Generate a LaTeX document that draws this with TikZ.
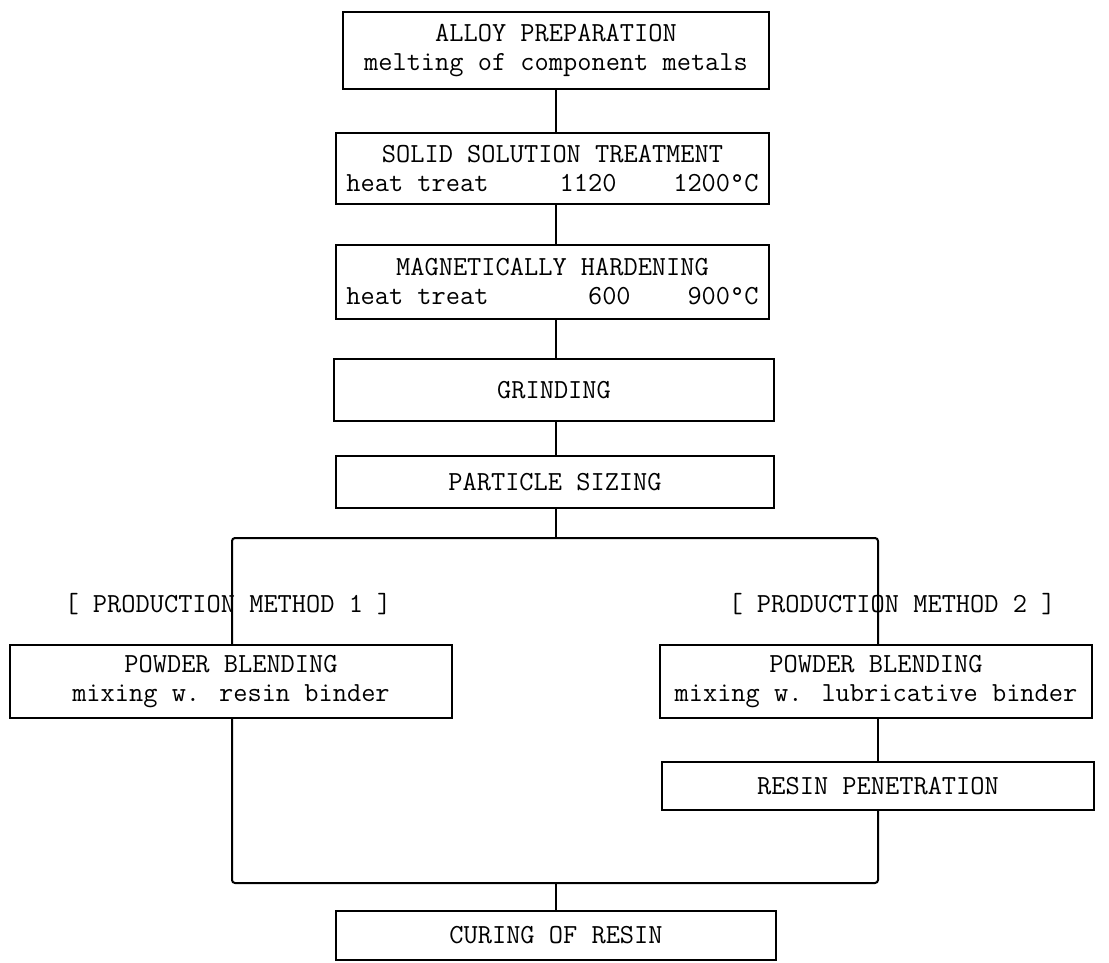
\documentclass[tikz,border=0pt]{standalone}
\begin{document}
\begin{tikzpicture}[x=1pt, y=-1pt,
    stage/.style={draw, line width=2pt, rectangle, inner sep=0pt, align=center,
                  font=\ttfamily\fontsize{27.6}{29}\selectfont},
    method/.style={inner sep=0pt, font=\ttfamily\fontsize{27.6}{29}\selectfont},
    flow/.style={line width=2pt, rounded corners=3pt}]
\useasboundingbox (0,0) rectangle (1109,963);

\coordinate (trunk) at (556,0);
\coordinate (lft)   at (232,0);
\coordinate (rgt)   at (878,0);
\coordinate (split) at (556,538);
\coordinate (merge) at (556,883);

\node[stage, minimum width=426pt, minimum height=77pt] (alloy)  at (556,50.5)
  {ALLOY PREPARATION\\melting of component metals};
\node[stage, minimum width=433pt, minimum height=71pt] (solid)  at (552.5,168.5)
  {SOLID SOLUTION TREATMENT\\heat treat~~~~~1120~~~~1200°C};
\node[stage, minimum width=433pt, minimum height=74pt] (harden) at (552.5,282)
  {MAGNETICALLY HARDENING\\heat treat~~~~~~~600~~~~900°C};
\node[stage, minimum width=440pt, minimum height=62pt] (grind)  at (554,390) {GRINDING};
\node[stage, minimum width=438pt, minimum height=52pt] (sizing) at (555,482) {PARTICLE SIZING};

\node[method] (meth1) at (228,604) {[ PRODUCTION METHOD 1 ]};
\node[method] (meth2) at (892,604) {[ PRODUCTION METHOD 2 ]};

\node[stage, minimum width=442pt, minimum height=73pt] (blend1) at (231,681.5)
  {POWDER BLENDING\\mixing w. resin binder};
\node[stage, minimum width=432pt, minimum height=73pt] (blend2) at (876,681.5)
  {POWDER BLENDING\\mixing w. lubricative binder};
\node[stage, minimum width=432pt, minimum height=48pt] (resin)  at (878,786) {RESIN PENETRATION};
\node[stage, minimum width=440pt, minimum height=49pt] (cure)   at (556,935.5) {CURING OF RESIN};

\draw[flow] (alloy.south -| trunk) -- (solid.north -| trunk);
\draw[flow] (solid.south -| trunk) -- (harden.north -| trunk);
\draw[flow] (harden.south -| trunk) -- (grind.north -| trunk);
\draw[flow] (grind.south -| trunk) -- (sizing.north -| trunk);
\draw[flow] (sizing.south -| trunk) -- (split);
\draw[flow] (blend1.north -| lft) |- (split) -| (blend2.north -| rgt);
\draw[flow] (blend2.south -| rgt) -- (resin.north -| rgt);
\draw[flow] (blend1.south -| lft) |- (merge) -| (resin.south -| rgt);
\draw[flow] (merge) -- (cure.north -| merge);
\end{tikzpicture}
\end{document}
